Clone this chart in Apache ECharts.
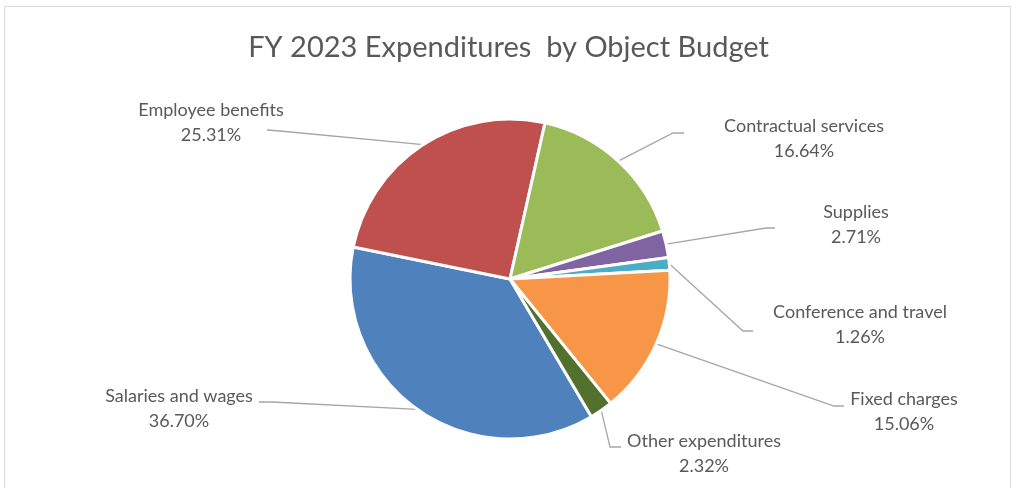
<!DOCTYPE html>
<html>
<head>
<meta charset="utf-8">
<script src="https://cdn.jsdelivr.net/npm/echarts@6/dist/echarts.min.js"></script>
<style>
html,body{margin:0;padding:0;background:#fff;}
#chart{width:1017px;height:488px;}
</style>
</head>
<body>
<div id="chart"></div>
<script>
// ---- data ----
const categories = ['Salaries and wages', 'Employee benefits', 'Contractual services', 'Supplies', 'Conference and travel', 'Fixed charges', 'Other expenditures'];
const shares = [36.70, 25.31, 16.64, 2.71, 1.26, 15.06, 2.32];
const titleText = 'FY 2023 Expenditures  by Object Budget';

// ---- styles ----
const colors = ['#4F81BD', '#C0504D', '#9BBB59', '#8064A2', '#4BACC6', '#F79646', '#52702E'];
// label block centre [x, y], leader line bend point and end point (annotation layout)
const labelCenters = [[179, 409], [211, 123], [804, 139], [856, 225], [860, 325], [904, 412], [704, 454]];
const lineBends = [[272, 402], [280, 131], [673, 133], [766, 228], [743, 331], [834, 406], [610, 447]];
const lineEnds = [[259, 402], [267, 130], [684, 133], [775, 228], [753, 331], [844, 406], [621, 447]];

const chart = echarts.init(document.getElementById('chart'));
const option = {
  animation: false,
  backgroundColor: '#ffffff',
  title: {
    text: titleText,
    left: 'center',
    top: 28,
    textStyle: { fontFamily: 'Lato', fontSize: 29, fontWeight: 'normal', color: '#595959' }
  },
  graphic: [{
    type: 'rect',
    shape: { x: 4.5, y: 6.5, width: 1006, height: 500 },
    style: { fill: 'none', stroke: '#d9d9d9', lineWidth: 1 },
    silent: true, z: -1
  }],
  series: [{
    type: 'pie',
    center: [510, 279],
    radius: 160,
    startAngle: -59.4,
    clockwise: true,
    avoidLabelOverlap: false,
    data: categories.map((c, i) => ({ name: c, value: shares[i], itemStyle: { color: colors[i] } })),
    itemStyle: { borderColor: '#ffffff', borderWidth: 3 },
    label: {
      show: true,
      position: 'outside',
      formatter: p => p.name + '\n' + p.value.toFixed(2) + '%',
      fontFamily: 'Lato',
      fontSize: 18,
      lineHeight: 25,
      color: '#595959',
      align: 'center'
    },
    labelLine: {
      show: true,
      length: 20,
      length2: 10,
      lineStyle: { color: '#a6a6a6', width: 1.3 }
    },
    labelLayout: function (params) {
      const i = params.dataIndex;
      const start = params.labelLinePoints ? params.labelLinePoints[0] : lineBends[i];
      return {
        x: labelCenters[i][0],
        y: labelCenters[i][1],
        align: 'center',
        verticalAlign: 'middle',
        labelLinePoints: [start, lineBends[i], lineEnds[i]]
      };
    },
    emphasis: { disabled: true }
  }]
};
chart.setOption(option);
</script>
</body>
</html>
